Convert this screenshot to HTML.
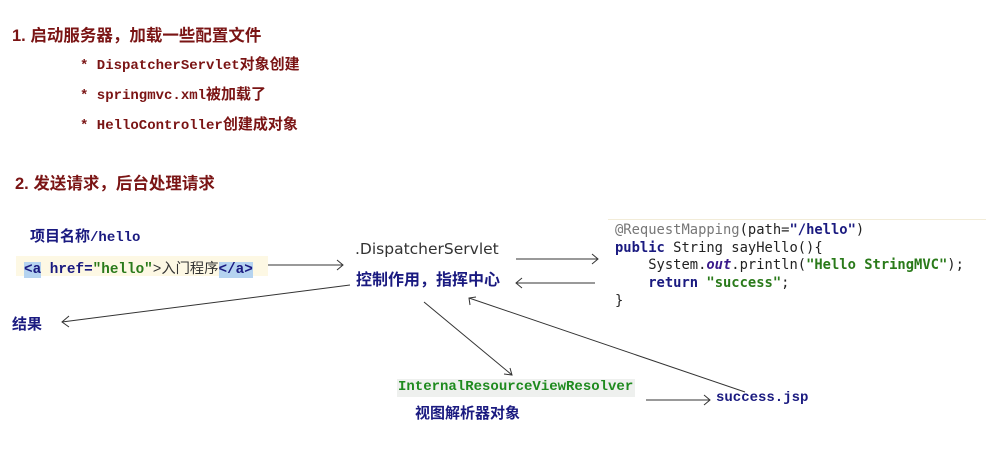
<!DOCTYPE html>
<html><head><meta charset="utf-8"><style>
body{margin:0;width:999px;height:450px;background:#fff;position:relative;overflow:hidden;font-family:"Liberation Sans","Noto Sans CJK SC",sans-serif}
.a{position:absolute;white-space:nowrap}
.red{color:#7a1414;font-weight:bold;font-size:16.5px}
.redm{color:#7a1414;font-weight:bold;font-size:14px;font-family:"Liberation Mono","Noto Sans CJK SC",monospace}
.navy{color:#1a1a80;font-weight:bold;font-size:15px}
.mono{font-family:"Liberation Mono","Noto Sans CJK SC",monospace;font-size:13px}
svg{position:absolute;left:0;top:0}
</style></head><body>
<div class="a red" style="left:12px;top:22px">1. 启动服务器，加载一些配置文件</div>
<div class="a redm" style="left:80px;top:53px">* DispatcherServlet<span style="font-family:'Noto Sans CJK SC',sans-serif;font-size:15px">对象创建</span></div>
<div class="a redm" style="left:80px;top:83px">* springmvc.xml<span style="font-family:'Noto Sans CJK SC',sans-serif;font-size:15px">被加载了</span></div>
<div class="a redm" style="left:80px;top:113px">* HelloController<span style="font-family:'Noto Sans CJK SC',sans-serif;font-size:15px">创建成对象</span></div>
<div class="a red" style="left:15px;top:170px">2. 发送请求，后台处理请求</div>

<div class="a navy" style="left:30px;top:225px">项目名称<span class="mono" style="font-size:14px">/hello</span></div>
<div class="a" style="left:16px;top:256px;width:252px;height:20px;background:#fdf8e4"></div>
<div class="a mono" style="left:24px;top:257px;color:#333;font-size:14.3px"><span style="background:#b5d3f0;color:#1a1a80;font-weight:bold">&lt;a</span> <span style="color:#1a1a80;font-weight:bold">href=</span><span style="color:#2a7a1a;font-weight:bold">"hello"</span>&gt;入门程序<span style="background:#b5d3f0;color:#1a1a80;font-weight:bold">&lt;/a&gt;</span></div>

<div class="a" style="left:355px;top:240px;font-size:15.5px;color:#333;font-family:'DejaVu Sans',sans-serif">.DispatcherServlet</div>
<div class="a navy" style="left:356px;top:266px;font-size:16px">控制作用，指挥中心</div>
<div class="a navy" style="left:12px;top:313px">结果</div>

<div class="a" style="left:608px;top:219px;width:378px;height:1px;background:#f2ecd8"></div>
<div class="a" style="left:615px;top:222px;font-family:'DejaVu Sans Mono',monospace;font-size:13.8px;line-height:17.7px;color:#222">
<div><span style="color:#777">@RequestMapping</span>(path=<span style="color:#1a1a80;font-weight:bold">"/hello"</span>)</div>
<div><span style="color:#1a1a80;font-weight:bold">public</span> String sayHello(){</div>
<div>&nbsp;&nbsp;&nbsp;&nbsp;System.<i style="color:#3a1a8a;font-weight:bold">out</i>.println(<span style="color:#2a7a1a;font-weight:bold">"Hello StringMVC"</span>);</div>
<div>&nbsp;&nbsp;&nbsp;&nbsp;<span style="color:#1a1a80;font-weight:bold">return</span> <span style="color:#2a7a1a;font-weight:bold">"success"</span>;</div>
<div>}</div>
</div>

<div class="a" style="left:397px;top:379px;width:238px;height:18px;background:#eef0ee"></div>
<div class="a mono" style="left:398px;top:379px;color:#1e8a1e;font-weight:bold;font-size:14px">InternalResourceViewResolver</div>
<div class="a navy" style="left:415px;top:402px">视图解析器对象</div>
<div class="a mono" style="left:716px;top:390px;color:#1a1a80;font-weight:bold;font-size:14px">success.jsp</div>

<svg width="999" height="450" fill="none" stroke="#333" stroke-width="1">
<line x1="268" y1="265" x2="343" y2="265"/><polyline points="337,260 343,265 337,270"/>
<line x1="516" y1="259" x2="598" y2="259"/><polyline points="592,254 598,259 592,264"/>
<line x1="595" y1="283" x2="516" y2="283"/><polyline points="522,278 516,283 522,288"/>
<line x1="350" y1="285" x2="62" y2="322"/><polyline points="69,316 62,322 69,327"/>
<line x1="424" y1="302" x2="512" y2="375"/><polyline points="504,374 512,375 510,368"/>
<line x1="745" y1="392" x2="469" y2="298"/><polyline points="470,305 469,298 476,297"/>
<line x1="646" y1="400" x2="710" y2="400"/><polyline points="704,395 710,400 704,405"/>
</svg>
</body></html>
